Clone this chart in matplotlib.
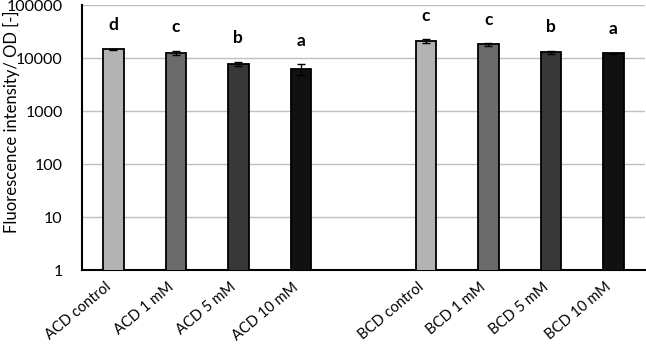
import numpy as np
import matplotlib
matplotlib.use("Agg")
import matplotlib.pyplot as plt
import matplotlib.transforms as mtransforms

plt.rcParams['font.family'] = ['Lato', 'DejaVu Sans']

# bar labels, empty slot between the two groups
labels = ['ACD control', 'ACD 1 mM', 'ACD 5 mM', 'ACD 10 mM', '',
          'BCD control', 'BCD 1 mM', 'BCD 5 mM', 'BCD 10 mM']
values = [14600, 12600, 7900, 6300, np.nan, 21200, 18100, 13000, 12400]
errors = [500, 1000, 700, 1400, np.nan, 1500, 1000, 900, 300]
letters = ['d', 'c', 'b', 'a', '', 'c', 'c', 'b', 'a']
colors = ['#b3b3b3', '#6b6b6b', '#383838', '#111111', 'none',
          '#b3b3b3', '#6b6b6b', '#383838', '#111111']

fig = plt.figure(figsize=(6.46, 3.44), dpi=100)
ax = fig.add_axes([0.127, 0.215, 0.871, 0.770])

x = np.arange(len(labels))
ax.bar(x, values, width=0.33, color=colors, edgecolor='black',
       linewidth=1.3, zorder=3)
ax.errorbar(x, values, yerr=errors, fmt='none', ecolor='black',
            elinewidth=1.0, capsize=3, capthick=1.0, zorder=4)

for xi, v, e, t in zip(x, values, errors, letters):
    if t:
        ax.annotate(t, (xi, v + e), xytext=(0, 17), textcoords='offset points',
                    ha='center', va='center', fontsize=12.5, fontweight='bold')

ax.set_yscale('log')
ax.set_ylim(1, 100000)
ax.set_xlim(-0.5, len(labels) - 0.5)
ax.set_yticks([1, 10, 100, 1000, 10000, 100000])
ax.set_yticklabels(['1', '10', '100', '1000', '10000', '100000'], fontsize=11.5)
ax.minorticks_off()
ax.yaxis.grid(True, color='#bfbfbf', linewidth=1.0, zorder=0)
ax.set_axisbelow(True)

tick_pos = [xi for xi, l in zip(x, labels) if l]
ax.set_xticks(tick_pos)
ax.set_xticklabels([l for l in labels if l], rotation=40, ha='right',
                   va='center', rotation_mode='anchor', fontsize=10.5)
ax.tick_params(axis='y', length=0, pad=14)
ax.tick_params(axis='x', length=0, pad=11)
shift = mtransforms.ScaledTranslation(-3 / 72, 0, fig.dpi_scale_trans)
for lab in ax.get_xticklabels():
    lab.set_transform(lab.get_transform() + shift)

for s in ['top', 'right']:
    ax.spines[s].set_visible(False)
ax.spines['left'].set_linewidth(1.5)
ax.spines['bottom'].set_linewidth(1.5)

ax.set_ylabel('Fluorescence intensity/ OD [-]', fontsize=12)
ax.yaxis.set_label_coords(-0.11, 0.56)

fig.savefig('out.png', dpi=100)
